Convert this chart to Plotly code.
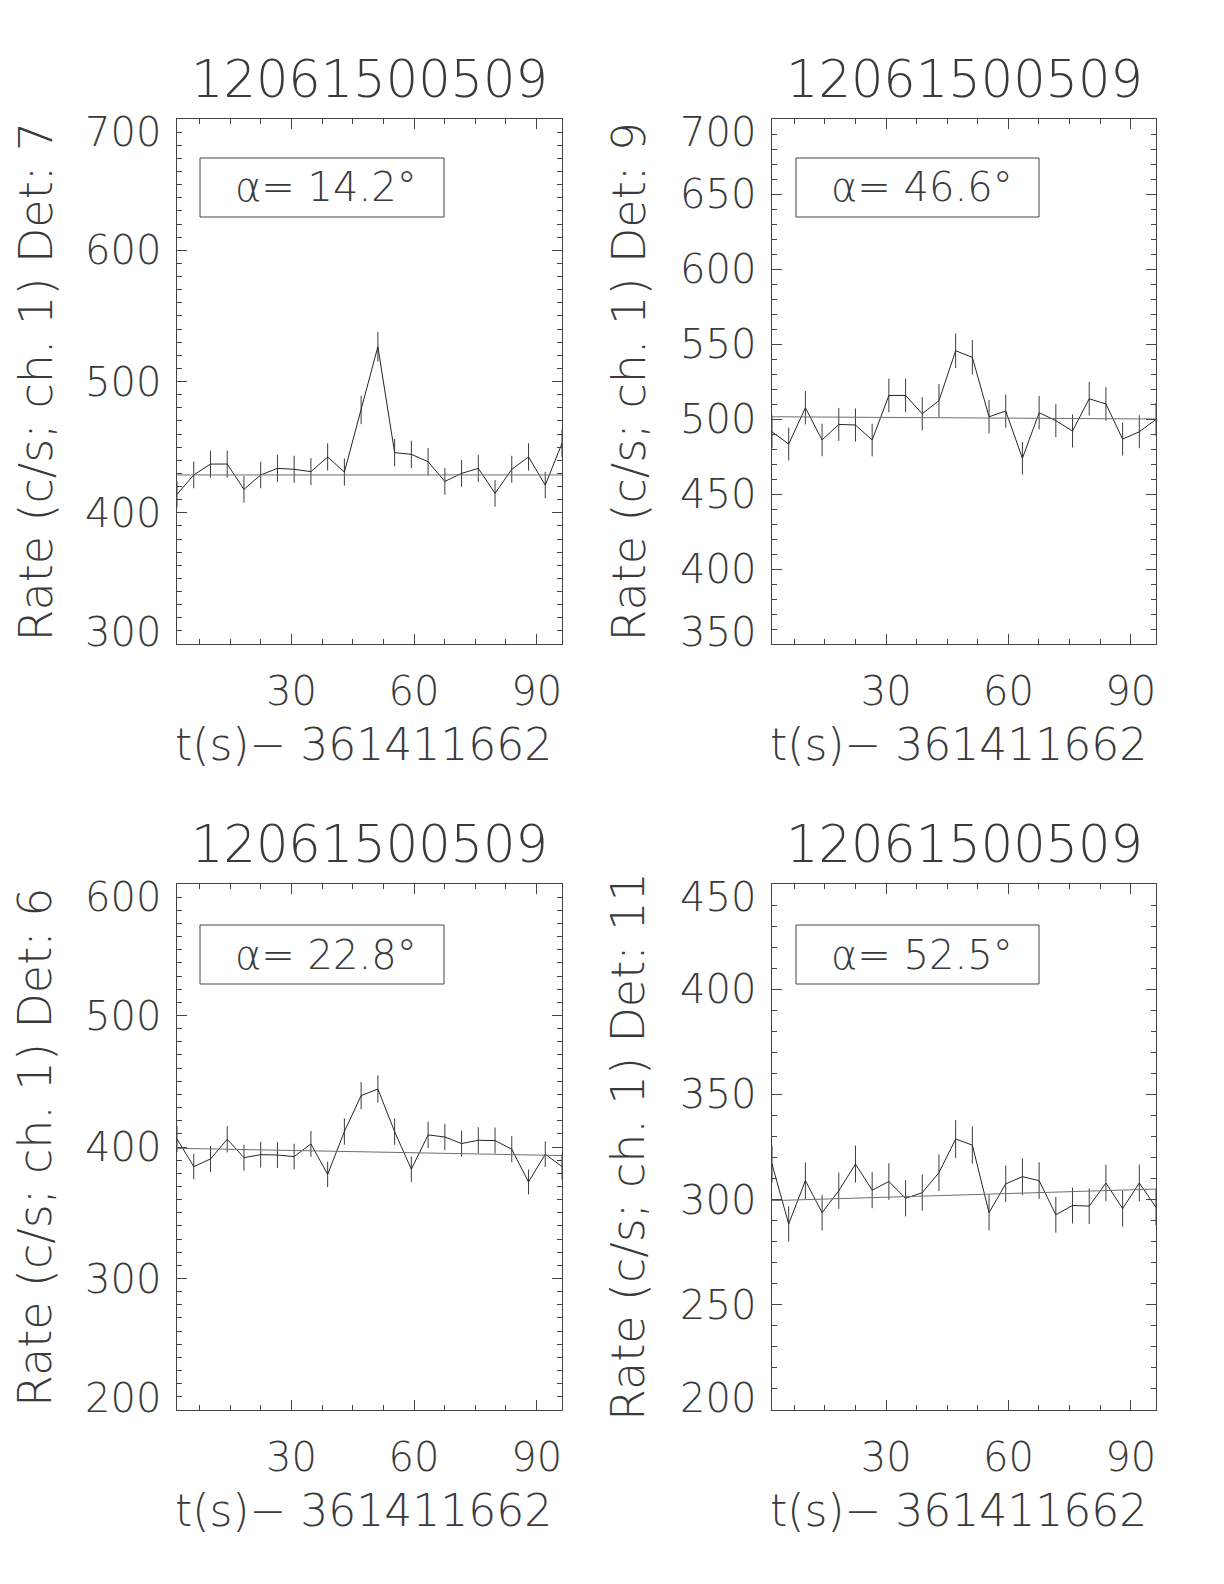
import plotly.graph_objects as go

# ---------------- data ----------------
t_start = 2.0          # s after T0 for first bin centre
t_bin = 4.096          # bin width (s)
n_bins = 24
time_s = [round(t_start + t_bin * k, 3) for k in range(n_bins)]

title_text = "12061500509"
xlabel_text = "t(s)\u2212 361411662"

det_labels = ["Det: 7", "Det: 9", "Det: 6", "Det: 11"]
alpha_deg = [14.2, 46.6, 22.8, 52.5]

rate_det7 = [414.0, 428.8, 437.1, 437.1, 417.8, 428.8, 433.8, 433.1, 431.3, 442.5, 431.0, 478.3,
             526.5, 445.8, 444.5, 438.9, 423.9, 430.0, 433.8, 414.8, 433.1, 442.5, 421.1, 452.9]
err_det7 = [10.1, 10.2, 10.3, 10.3, 10.1, 10.2, 10.3, 10.3, 10.3, 10.4, 10.3, 10.8,
            11.3, 10.4, 10.4, 10.4, 10.2, 10.2, 10.3, 10.1, 10.3, 10.4, 10.1, 10.5]
fit_det7 = [428.8, 428.8]

rate_det9 = [491.5, 483.3, 507.5, 486.0, 496.4, 496.0, 486.0, 515.7, 515.7, 503.5, 512.2, 545.5,
             541.1, 501.5, 505.3, 473.8, 504.2, 498.9, 492.0, 513.5, 510.0, 486.6, 491.5, 499.7]
err_det9 = [11.0, 10.9, 11.1, 10.9, 11.0, 11.0, 10.9, 11.2, 11.2, 11.1, 11.2, 11.5,
            11.5, 11.1, 11.1, 10.8, 11.1, 11.0, 11.0, 11.2, 11.2, 10.9, 11.0, 11.0]
fit_det9 = [501.5, 500.0]

rate_det6 = [406.1, 385.1, 390.9, 405.9, 391.9, 394.2, 393.9, 392.7, 402.3, 379.2, 411.7, 439.1,
             444.1, 411.7, 383.1, 409.2, 407.6, 402.6, 405.1, 404.9, 398.3, 373.4, 394.5, 385.1]
err_det6 = [10.0, 9.7, 9.8, 10.0, 9.8, 9.8, 9.8, 9.8, 9.9, 9.6, 10.0, 10.4,
            10.4, 10.0, 9.7, 10.0, 10.0, 9.9, 9.9, 9.9, 9.9, 9.5, 9.8, 9.7]
fit_det6 = [399.0, 393.5]

rate_det11 = [316.9, 288.4, 309.0, 293.8, 304.2, 316.9, 304.5, 308.6, 300.6, 303.3, 312.8, 328.8,
              325.9, 293.8, 307.5, 310.9, 309.0, 292.8, 297.2, 296.9, 307.9, 295.7, 307.9, 296.3]
err_det11 = [8.8, 8.4, 8.7, 8.5, 8.6, 8.8, 8.6, 8.7, 8.6, 8.6, 8.7, 9.0,
             8.9, 8.5, 8.7, 8.7, 8.7, 8.5, 8.5, 8.5, 8.7, 8.5, 8.7, 8.5]
fit_det11 = [299.5, 305.0]

y_ranges = [[300, 700], [350, 700], [200, 600], [200, 450]]
y_tickvals = [
    [300, 400, 500, 600, 700],
    [350, 400, 450, 500, 550, 600, 650, 700],
    [200, 300, 400, 500, 600],
    [200, 250, 300, 350, 400, 450],
]
y_minor = [10, 10, 10, 10]
x_ticks = [30, 60, 90]

rates = [rate_det7, rate_det9, rate_det6, rate_det11]
errs = [err_det7, err_det9, err_det6, err_det11]
fits = [fit_det7, fit_det9, fit_det6, fit_det11]

# ---------------- layout helpers ----------------
OFF = 8
W, H = 1224 - 2 * OFF, 1584 - 2 * OFF


def px(x):
    return (x - OFF) / W


def py(y):
    return 1 - (y - OFF) / H


FONT = "'DejaVu Sans', 'Inter', sans-serif"
TXT = "#3a3a3a"
AX = "#444444"
LINE = "#262626"

panel_x = [(177, 562), (772, 1156), (177, 562), (772, 1156)]
panel_y = [(119, 644), (119, 644), (884, 1410), (884, 1410)]
alpha_box_x = [(200, 444), (796, 1039), (200, 444), (796, 1039)]
alpha_box_y = [(158, 217), (158, 217), (925, 984), (925, 984)]
ylabel_x = [35, 628, 35, 628]

fig = go.Figure()
annotations = []
shapes = []

for i in range(4):
    ax_id = "" if i == 0 else str(i + 1)
    xa, ya = "x" + ax_id, "y" + ax_id
    x0p, x1p = panel_x[i]
    y0p, y1p = panel_y[i]

    fig.add_trace(go.Scatter(
        x=time_s, y=rates[i], mode="lines",
        line=dict(color=LINE, width=1),
        error_y=dict(type="data", array=errs[i], visible=True, color="#3c3c3c", thickness=1, width=0),
        xaxis=xa, yaxis=ya, showlegend=False, hoverinfo="skip"))
    fig.add_trace(go.Scatter(
        x=[time_s[0], time_s[-1]], y=fits[i], mode="lines",
        line=dict(color="#6e6e6e", width=1),
        xaxis=xa, yaxis=ya, showlegend=False, hoverinfo="skip"))

    axis_common = dict(
        showgrid=False, zeroline=False, showline=True, linecolor=AX, linewidth=1,
        mirror="allticks", ticks="inside", tickcolor=AX, tickwidth=1, automargin=False,
        tickfont=dict(family=FONT, size=40, color=TXT, weight=200),
    )
    fig.layout["xaxis" + ax_id] = dict(
        axis_common, domain=[px(x0p), px(x1p)], range=[time_s[0], time_s[-1]],
        anchor=ya, tickmode="array", tickvals=x_ticks, ticklen=10,
        ticklabelstandoff=12,
        minor=dict(dtick=7.5, tick0=0, ticks="inside", ticklen=5, tickcolor=AX, tickwidth=1),
    )
    fig.layout["yaxis" + ax_id] = dict(
        axis_common, domain=[py(y1p), py(y0p)], range=y_ranges[i],
        anchor=xa, tickmode="array", tickvals=y_tickvals[i], ticklen=10,
        showticklabels=False,
        minor=dict(dtick=y_minor[i], tick0=0, ticks="inside", ticklen=5, tickcolor=AX, tickwidth=1),
    )

    # y tick labels (end labels nudged inside the frame, as in the original)
    lo, hi = y_ranges[i]
    for v in y_tickvals[i]:
        shift = -13 if v == hi else (12 if v == lo else 0)
        annotations.append(dict(text=str(v), x=0, xref=xa + " domain", y=v, yref=ya,
                                xanchor="right", yanchor="middle", xshift=-14, yshift=shift,
                                showarrow=False,
                                font=dict(family=FONT, size=40, color=TXT, weight=200)))

    cx = (x0p + x1p) / 2
    # title
    annotations.append(dict(text=title_text, x=px(cx), y=py(79 + (y0p - 119)),
                            xref="paper", yref="paper",
                            showarrow=False, xanchor="center", yanchor="middle",
                            font=dict(family=FONT, size=51, color=TXT, weight=200)))
    # x label
    annotations.append(dict(text=xlabel_text, x=px(cx - 6), y=py(y1p + 100),
                            xref="paper", yref="paper",
                            showarrow=False, xanchor="center", yanchor="middle",
                            font=dict(family=FONT, size=44, color=TXT, weight=200)))
    # y label
    annotations.append(dict(text="Rate (c/s; ch. 1) " + det_labels[i], x=px(ylabel_x[i]),
                            y=py((y0p + y1p) / 2), xref="paper", yref="paper", textangle=-90,
                            showarrow=False, xanchor="center", yanchor="middle",
                            font=dict(family=FONT, size=46, color=TXT, weight=200)))
    # alpha box
    bx0, bx1 = alpha_box_x[i]
    by0, by1 = alpha_box_y[i]
    shapes.append(dict(type="rect", xref="paper", yref="paper",
                       x0=px(bx0), x1=px(bx1), y0=py(by1), y1=py(by0),
                       line=dict(color=AX, width=1), fillcolor="rgba(0,0,0,0)"))
    annotations.append(dict(text="\u03b1= %.1f\u00b0" % alpha_deg[i],
                            x=px((bx0 + bx1) / 2 + 4), y=py((by0 + by1) / 2),
                            xref="paper", yref="paper", showarrow=False,
                            xanchor="center", yanchor="middle",
                            font=dict(family=FONT, size=40, color=TXT, weight=200)))

fig.update_layout(
    width=W, height=H, autosize=False,
    margin=dict(l=0, r=0, t=0, b=0),
    paper_bgcolor="white", plot_bgcolor="white",
    annotations=annotations, shapes=shapes,
)

fig.write_html("out.html")
